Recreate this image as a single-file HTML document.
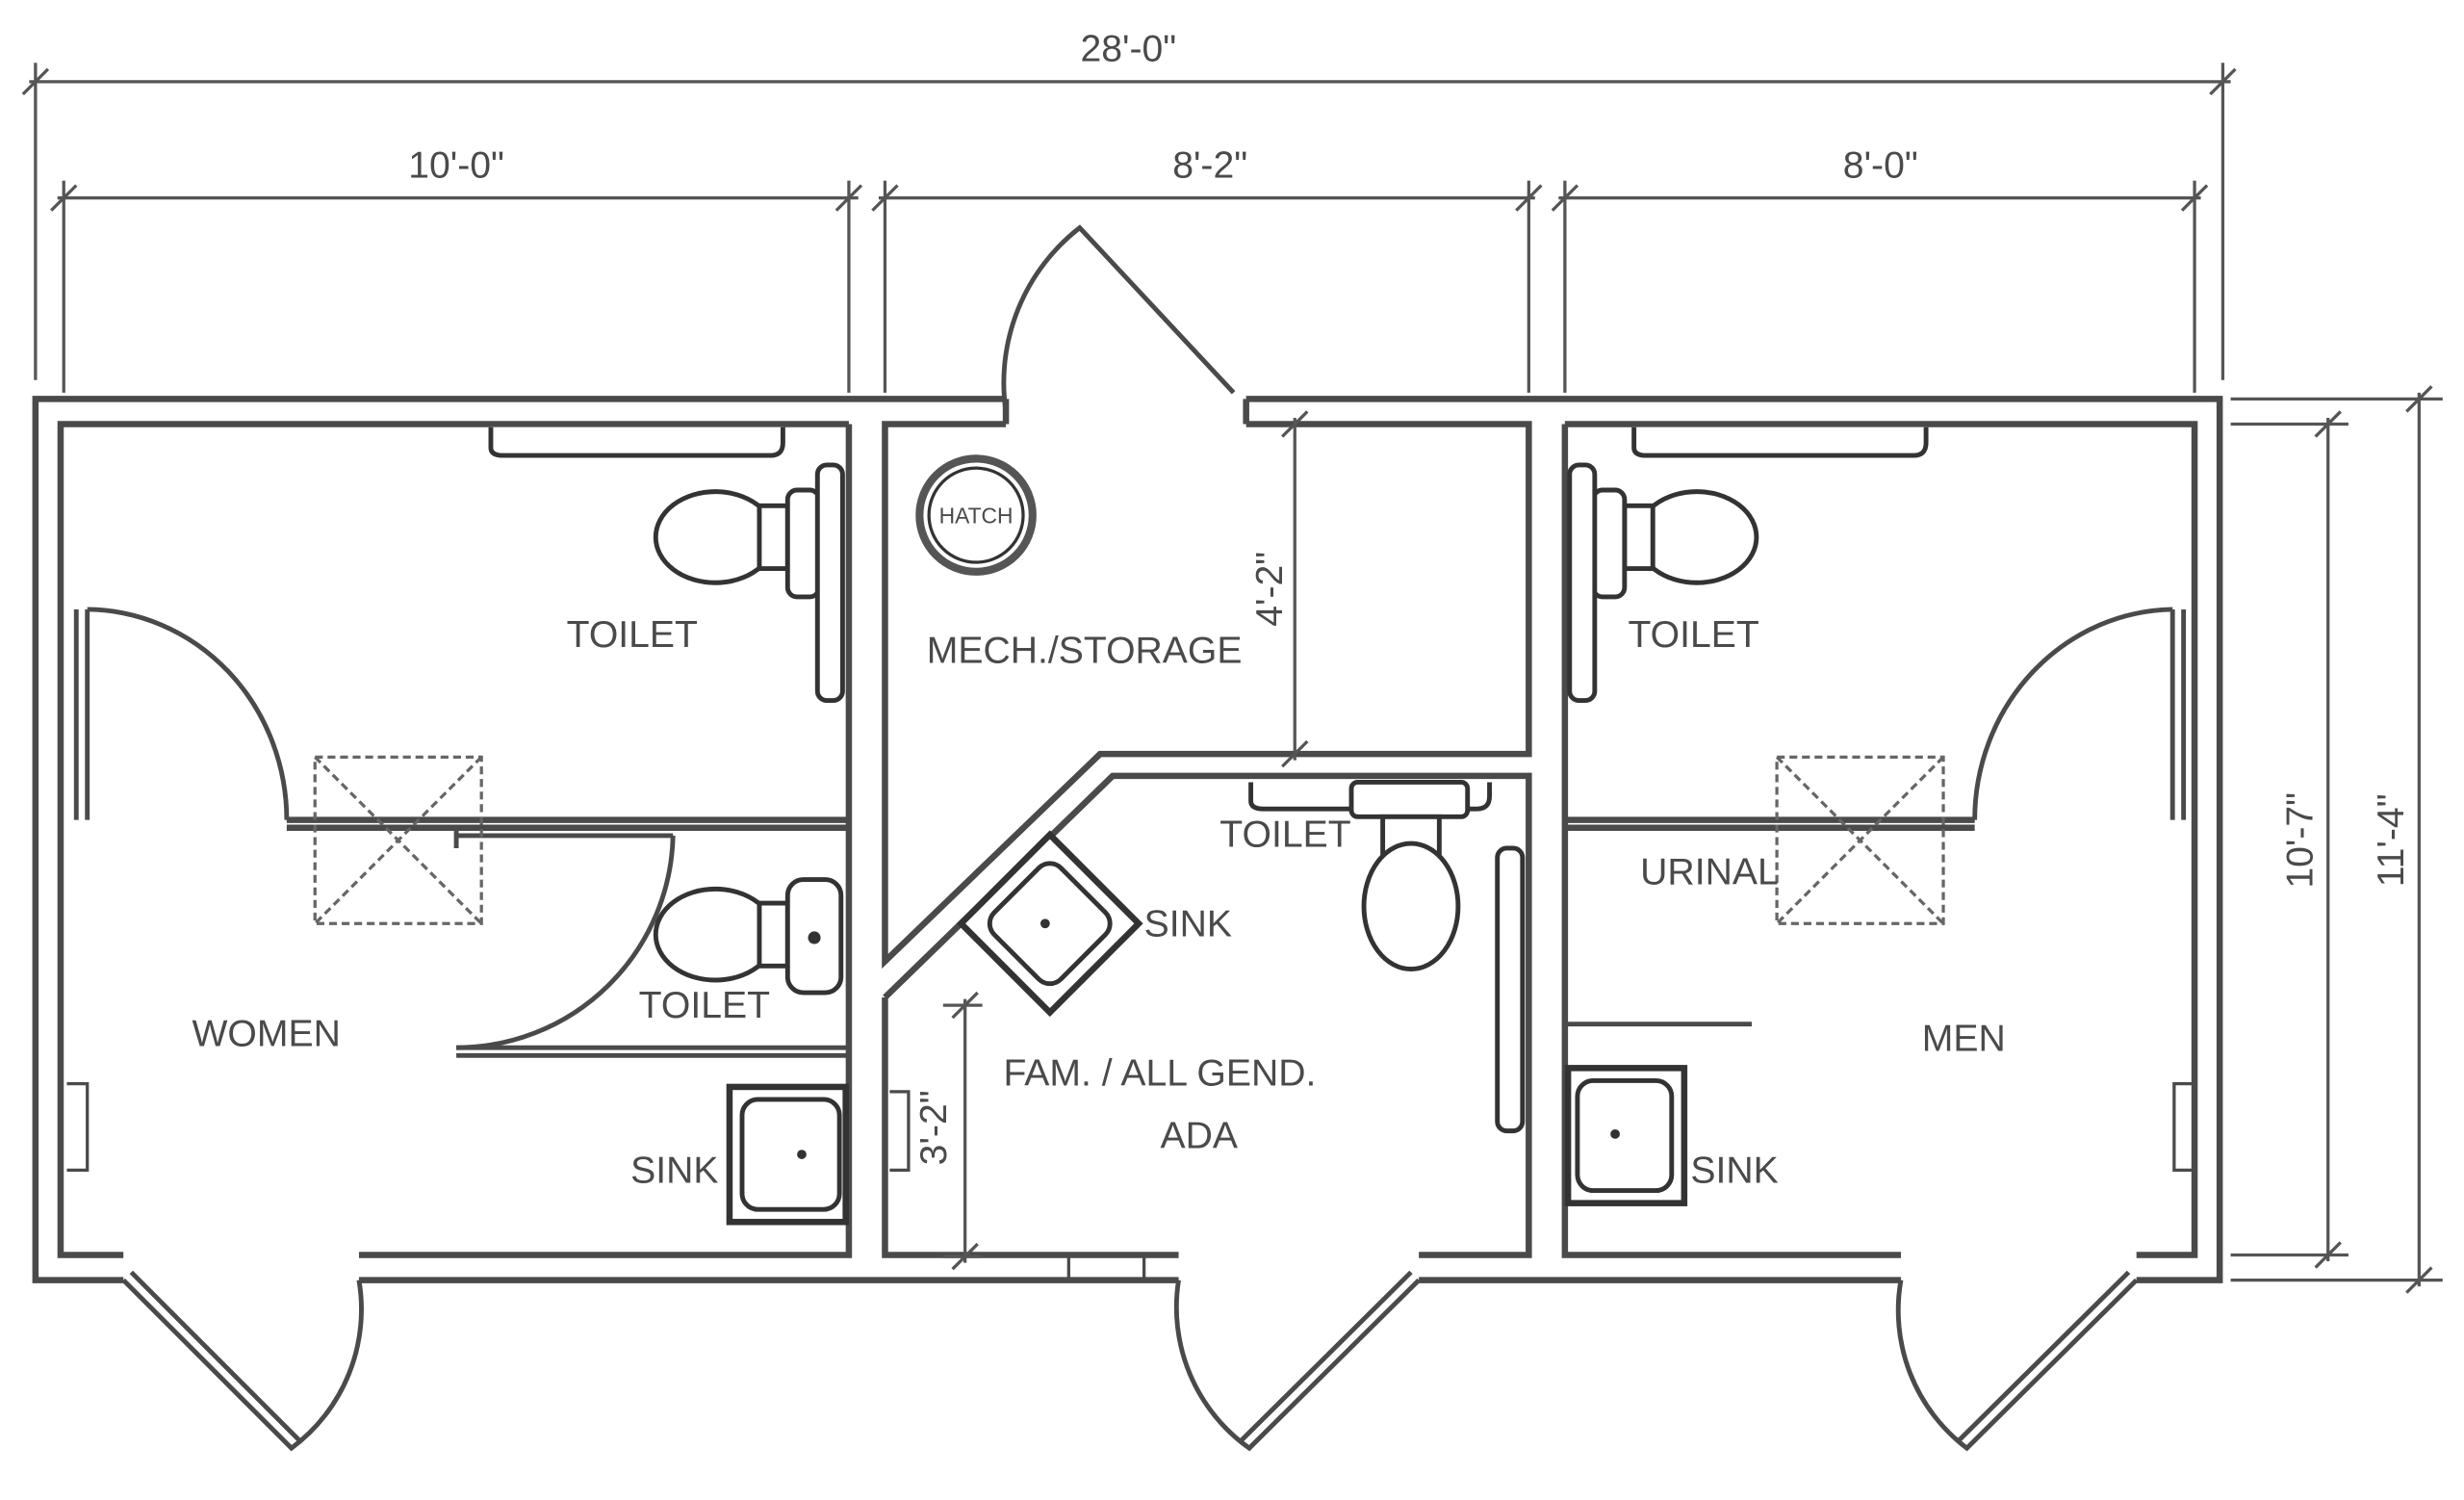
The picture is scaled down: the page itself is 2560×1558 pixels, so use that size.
<!DOCTYPE html>
<html><head><meta charset="utf-8"><style>
html,body{margin:0;padding:0;background:#fff;}
svg{display:block;}
text{font-family:"Liberation Sans",sans-serif;fill:#4a4a4a;}
</style></head><body>
<svg width="2560" height="1558" viewBox="0 0 1568 955" xmlns="http://www.w3.org/2000/svg">
<g fill="none" stroke="#4a4a4a" stroke-width="4" stroke-linejoin="miter">
<path d="M640,254 H22 V815 H78 M228,815 H750 M903,815 H1210 M1360,815 H1413 V254 H793"/>
<path d="M640,270 H563 V612 L700,480 H973 V270 H793"/>
<path d="M640,254 V270 M793,254 V270"/>
<path d="M540,270 H38 V799 H78 M228,799 H540 V270"/>
<path d="M563,635 L708,494 H973 V799 H903 M750,799 H563 V635"/>
<path d="M996,270 H1397 V799 H1360 M1210,799 H996 V270"/>
<path d="M680,799 V815 M728,799 V815" stroke-width="2"/>
<path d="M182,522 H540 M182,527 H540"/>
<path d="M290,667 H540 M290,672 H540" stroke-width="3"/>
<path d="M290,532 H428 M290,527 V540" stroke-width="3"/>
<path d="M428,532 A138,138 0 0 1 290,667" stroke-width="3"/>
<path d="M48,388 V522 M55,388 V522" stroke-width="3"/>
<path d="M55,388 A128,134 0 0 1 182,522" stroke-width="3"/>
<path d="M996,522 H1257 M996,527 H1257"/>
<path d="M1383,388 V522 M1390,388 V522" stroke-width="3"/>
<path d="M1383,388 A128,134 0 0 0 1257,522" stroke-width="3"/>
<path d="M996,652 H1115" stroke-width="3"/>
<path d="M640,262 A125,125 0 0 1 687,145 L785,250" stroke-width="3"/>
<path d="M228,815 A110,110 0 0 1 185,922 L78,815 M83,810 L190,917" stroke-width="3"/>
<path d="M750,815 A110,110 0 0 0 795,922 L903,815 M898,810 L790,917" stroke-width="3"/>
<path d="M1210,815 A110,110 0 0 0 1252,922 L1360,815 M1355,810 L1247,917" stroke-width="3"/>
<path d="M42,690 H55 V745 H42 M1397,690 H1384 V745 H1397 M566,695 H578 V745 H566" stroke-width="2"/>
</g>
<g fill="none" stroke="#555" stroke-width="2">
<path d="M18,52 H1420 M22,40 V242 M1415,40 V242 M14,60 L30,44 M1407,60 L1423,44"/>
<path d="M36,126 H546 M40,115 V250 M540,115 V250 M32,134 L48,118 M532,134 L548,118"/>
<path d="M559,126 H977 M563,115 V250 M973,115 V250 M555,134 L571,118 M965,134 L981,118"/>
<path d="M992,126 H1401 M996,115 V250 M1397,115 V250 M988,134 L1004,118 M1389,134 L1405,118"/>
<path d="M1420,254 H1555 M1420,270 H1495 M1420,799 H1495 M1420,815 H1555"/>
<path d="M1482,266 V803 M1540,250 V819 M1474,278 L1490,262 M1474,807 L1490,791 M1532,262 L1548,246 M1532,823 L1548,807"/>
<path d="M824,266 V484 M816,278 L832,262 M816,488 L832,472"/>
<path d="M614,636 V804 M606,648 L622,632 M606,808 L622,792 M600,640 H625 M600,800 H625"/>
</g>
<g fill="none" stroke="#666" stroke-width="2" stroke-dasharray="5,3">
<rect x="200" y="482" width="106" height="106"/><path d="M200,482 L306,588 M306,482 L200,588"/>
<rect x="1131" y="482" width="106" height="106"/><path d="M1131,482 L1237,588 M1237,482 L1131,588"/>
</g>
<g fill="#fff" stroke="#333" stroke-width="3">
<path d="M312,272 V285 Q312,290 320,290 H490 Q498,290 498,282 V272"/>
<ellipse cx="455" cy="342" rx="38" ry="29"/>
<rect x="483" y="322" width="18" height="40"/>
<rect x="501" y="312" width="20" height="68" rx="6"/>
<rect x="520" y="296" width="16" height="150" rx="6"/>
<ellipse cx="455" cy="595" rx="38" ry="29"/>
<rect x="483" y="575" width="18" height="40"/>
<rect x="501" y="560" width="34" height="72" rx="10"/>
<rect x="464" y="692" width="74" height="86" stroke-width="4"/>
<rect x="472" y="700" width="62" height="70" rx="10"/>
<ellipse cx="1080" cy="342" rx="38" ry="29"/>
<rect x="1034" y="322" width="18" height="40"/>
<rect x="1014" y="312" width="20" height="68" rx="6"/>
<rect x="999" y="296" width="16" height="150" rx="6"/>
<path d="M1040,272 V285 Q1040,290 1048,290 H1218 Q1226,290 1226,282 V272"/>
<rect x="998" y="680" width="74" height="86" stroke-width="4"/>
<rect x="1004" y="688" width="60" height="70" rx="10"/>
<path d="M796,498 V510 Q796,515 804,515 H940 Q948,515 948,507 V498"/>
<rect x="860" y="498" width="74" height="22" rx="4"/>
<rect x="880" y="520" width="36" height="24"/>
<ellipse cx="898" cy="577" rx="30" ry="40"/>
<rect x="953" y="540" width="16" height="180" rx="6"/>
<g transform="rotate(-45 668 588)">
<rect x="628" y="548" width="80" height="80" stroke-width="4"/>
<rect x="638" y="558" width="60" height="60" rx="10"/>
</g>
<circle cx="621" cy="328" r="36" stroke="#555" stroke-width="5"/>
<circle cx="621" cy="328" r="30" stroke-width="2"/>
</g>
<g fill="#333">
<circle cx="510" cy="735" r="3"/><circle cx="1028" cy="722" r="3"/><circle cx="518" cy="597" r="4"/><circle cx="665" cy="588" r="3"/>
</g>
<g font-size="24" text-anchor="middle">
<text x="718" y="39">28'-0"</text>
<text x="290" y="113">10'-0"</text>
<text x="770" y="113">8'-2"</text>
<text x="1197" y="113">8'-0"</text>
<text x="402" y="412">TOILET</text>
<text x="448" y="648">TOILET</text>
<text x="169" y="666">WOMEN</text>
<text x="429" y="753">SINK</text>
<text x="690" y="422">MECH./STORAGE</text>
<text x="818" y="539">TOILET</text>
<text x="756" y="596">SINK</text>
<text x="738" y="691">FAM. / ALL GEND.</text>
<text x="763" y="731">ADA</text>
<text x="1078" y="412">TOILET</text>
<text x="1088" y="563">URINAL</text>
<text x="1250" y="669">MEN</text>
<text x="1104" y="753">SINK</text>
<text x="621" y="333" font-size="14">HATCH</text>
<text transform="translate(816,375) rotate(-90)">4'-2"</text>
<text transform="translate(602,718) rotate(-90)">3'-2"</text>
<text transform="translate(1472,535) rotate(-90)">10'-7"</text>
<text transform="translate(1530,535) rotate(-90)">11'-4"</text>
</g>
</svg>
</body></html>
